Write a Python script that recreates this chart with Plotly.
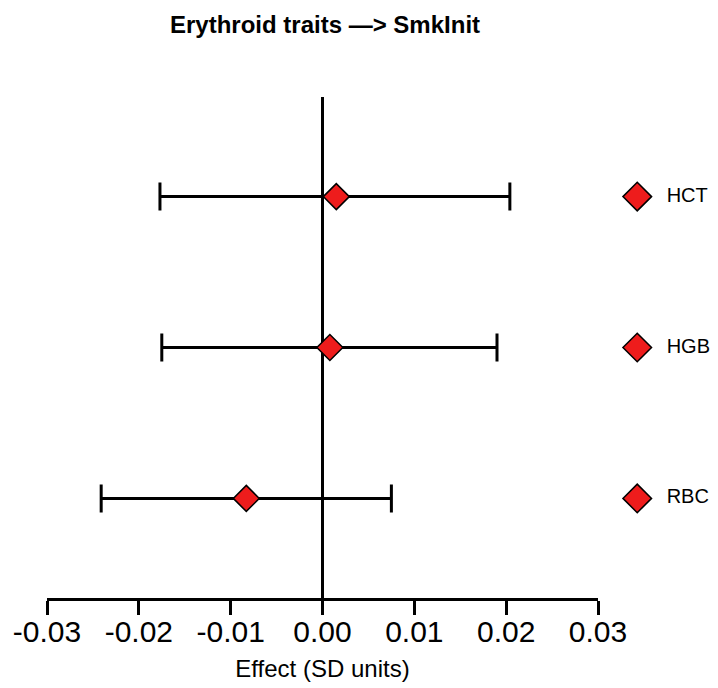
import plotly.graph_objects as go

traits = ["HCT", "HGB", "RBC"]
effect = [0.0015, 0.0008, -0.0083]
ci_low = [-0.0177, -0.0175, -0.0241]
ci_high = [0.0204, 0.0190, 0.0075]
x_ticks = [-0.03, -0.02, -0.01, 0.00, 0.01, 0.02, 0.03]

ink = 'black'
fill = '#ee1c1c'
face = 'Liberation Sans, Arial, sans-serif'

err_plus = [h - e for h, e in zip(ci_high, effect)]
err_minus = [e - l for e, l in zip(effect, ci_low)]

fig = go.Figure()

# estimates with 95% CI
fig.add_trace(go.Scatter(x = effect,
                         y = traits,
                         mode = 'markers',
                         showlegend = False,
                         error_x = dict(type = 'data',
                                        symmetric = False,
                                        array = err_plus,
                                        arrayminus = err_minus,
                                        color = ink,
                                        thickness = 3,
                                        width = 14),
                         marker = dict(symbol = 'diamond',
                                       size = 20,
                                       color = fill,
                                       line = dict(color = ink, width = 1.5))))

# key on the right, one entry per row
fig.add_trace(go.Scatter(x = [0.292] * len(traits),
                         y = traits,
                         xaxis = 'x2',
                         mode = 'markers',
                         showlegend = False,
                         marker = dict(symbol = 'diamond',
                                       size = 22,
                                       color = fill,
                                       line = dict(color = ink, width = 1.5))))
fig.add_trace(go.Scatter(x = [0.55] * len(traits),
                         y = traits,
                         xaxis = 'x2',
                         mode = 'text',
                         text = traits,
                         textposition = 'middle right',
                         textfont = dict(size = 20, color = ink, family = face),
                         showlegend = False))

# page body adds 8px around the figure, so size is 710x680
fig.update_layout(width = 710,
                  height = 680,
                  margin = dict(l = 39, r = 0, t = 89, b = 90),
                  plot_bgcolor = 'white',
                  paper_bgcolor = 'white',
                  font = dict(family = face, color = ink),
                  title = dict(text = '<b>Erythroid traits \u2014> SmkInit</b>',
                               font = dict(size = 24, color = ink, family = face),
                               xref = 'container',
                               x = 0.4465,
                               xanchor = 'center',
                               yref = 'container',
                               y = 0.975,
                               yanchor = 'middle'))

fig.update_layout(xaxis = dict(domain = [0, 0.8212],
                               range = [-0.03, 0.03],
                               automargin = False,
                               tickvals = x_ticks,
                               ticktext = ['%.2f' % t for t in x_ticks],
                               tickfont = dict(size = 30, color = ink),
                               ticklabelstandoff = -9,
                               showline = True,
                               linecolor = ink,
                               linewidth = 3,
                               ticks = 'outside',
                               ticklen = 14,
                               tickwidth = 3,
                               tickcolor = ink,
                               showgrid = False,
                               zeroline = True,
                               zerolinecolor = ink,
                               zerolinewidth = 3,
                               title = dict(text = 'Effect (SD units)',
                                            font = dict(size = 24, color = ink),
                                            standoff = 14)),
                  xaxis2 = dict(domain = [0.83, 1],
                                range = [0, 1],
                                anchor = 'y',
                                automargin = False,
                                visible = False))

fig.update_yaxes(type = 'category',
                 categoryorder = 'array',
                 categoryarray = traits[::-1],
                 range = [-0.66, 2.66],
                 automargin = False,
                 visible = False)

fig.write_html("out.html")
